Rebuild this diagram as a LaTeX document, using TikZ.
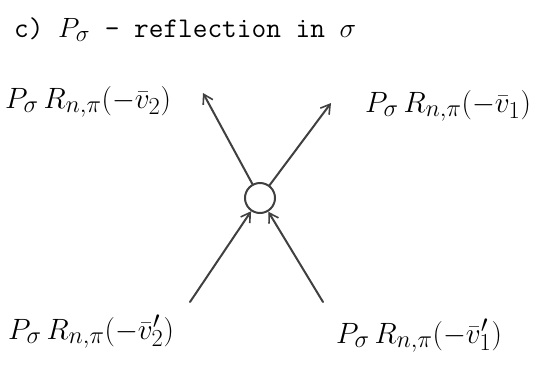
\documentclass[tikz,border=0pt]{standalone}
\usepackage{graphicx}
\usetikzlibrary{arrows.meta}
\newcommand{\biglbl}[1]{\scalebox{1.18}{$#1$}}
\newcommand{\ttlmath}[1]{{\fontsize{24.88}{30}\selectfont\scalebox{1.12}{$#1$}}}
\begin{document}
\begin{tikzpicture}[x=1pt,y=-1pt,
  stroke/.style={draw=black!75, line width=2pt, line cap=round},
  tip/.style={-{Straight Barb[length=9pt,width=11pt,line width=1.6pt]}},
  lbl/.style={inner sep=0pt, anchor=west, font=\fontsize{24.88}{30}\selectfont},
  ttl/.style={inner sep=0pt, anchor=west, font=\fontsize{28.5}{32}\selectfont\ttfamily}]
\useasboundingbox (0,0) rectangle (555,365);
\node[ttl] (title) at (14,30) {c) \ttlmath{P_{\sigma}} - reflection in \ttlmath{\sigma}};
\node[draw=black!75, line width=2pt, circle, minimum size=30pt, inner sep=0pt] (c) at (260,198) {};
\coordinate (ul) at (203,93);
\coordinate (ur) at (331,103);
\coordinate (ll) at (190,302);
\coordinate (lr) at (323,302);
\draw[stroke, tip] (c) -- (ul);
\draw[stroke, tip] (c) -- (ur);
\draw[stroke, tip] (ll) -- (c);
\draw[stroke, tip] (lr) -- (c);
\node[lbl] (tl) at (5,102) {\biglbl{P_{\sigma}\,R_{n,\pi}(-\bar{v}_2)}};
\node[lbl] (tr) at (365,106) {\biglbl{P_{\sigma}\,R_{n,\pi}(-\bar{v}_1)}};
\node[lbl] (bl) at (8,332) {\biglbl{P_{\sigma}\,R_{n,\pi}(-\bar{v}_2')}};
\node[lbl] (br) at (336,336) {\biglbl{P_{\sigma}\,R_{n,\pi}(-\bar{v}_1')}};
\end{tikzpicture}
\end{document}
